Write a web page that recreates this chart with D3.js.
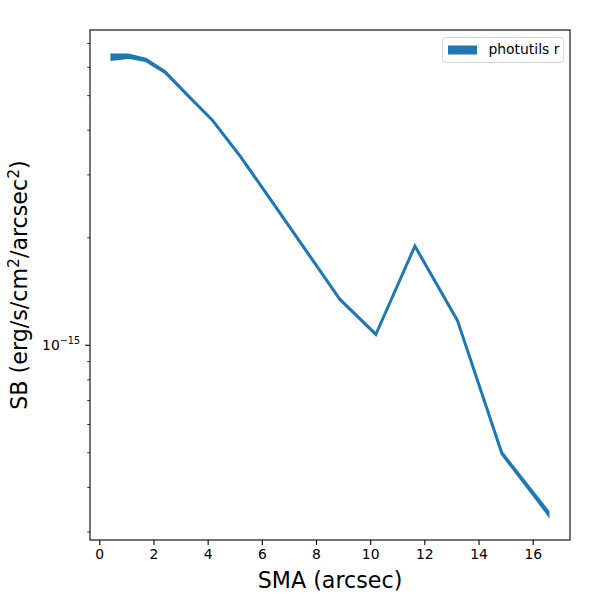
<!DOCTYPE html>
<html>
<head>
<meta charset="utf-8">
<script src="https://cdn.jsdelivr.net/npm/d3@7"></script>
<style>
  body { margin: 0; background: #fff; }
  text { font-family: "DejaVu Sans", sans-serif; fill: #000; }
</style>
</head>
<body>
<div id="container"></div>
<script>
// surface brightness profile
const sma = [0.46, 1.07, 1.71, 2.43, 3.28, 4.18, 5.22, 6.37, 7.6, 8.88, 10.21, 11.65, 13.22, 14.86, 16.57]
const sb = [6.39e-15, 6.43e-15, 6.28e-15, 5.80e-15, 4.98e-15, 4.25e-15, 3.36e-15, 2.52e-15, 1.85e-15,
            1.34e-15, 1.07e-15, 1.89e-15, 1.17e-15, 4.97e-16, 3.38e-16]
// relative error used for the band
const sbErr = [0.015, 0.009, 0.005, 0.003, 0.002, 0.002, 0.002, 0.002, 0.002, 0.002, 0.002, 0.002, 0.002, 0.004, 0.009]

const xTicks = [0, 2, 4, 6, 8, 10, 12, 14, 16]
const yMajor = [1e-15]
const yMinor = [3e-16, 4e-16, 5e-16, 6e-16, 7e-16, 8e-16, 9e-16, 2e-15, 3e-15, 4e-15, 5e-15, 6e-15, 7e-15]
const seriesName = "photutils r"

// constants
const width = 600,
  height = 600,
  margin = { top: 30, bottom: 60, left: 90, right: 30 }
const blue = "#1f77b4"

const data = sma.map((d, i) => ({ sma: d, sb: sb[i], err: sbErr[i] }))

// scales
const xScale = d3.scaleLinear()
  .domain([-0.343, 17.376])
  .range([margin.left, width - margin.right])

const yScale = d3.scaleLog()
  .domain([2.84e-16, 7.61e-15])
  .range([height - margin.bottom, margin.top])

const svg = d3.select("#container")
  .append("svg")
  .attr("width", width)
  .attr("height", height)

// band
const areaGen = d3.area()
  .x(d => xScale(d.sma))
  .y0(d => yScale(d.sb * (1 - d.err)))
  .y1(d => yScale(d.sb * (1 + d.err)))

svg.append("path")
  .datum(data)
  .attr("fill", blue)
  .attr("stroke", blue)
  .attr("stroke-width", 2.7)
  .attr("stroke-linejoin", "miter")
  .attr("d", areaGen)

// x axis
const xAxis = d3.axisBottom(xScale)
  .tickValues(xTicks)
  .tickSize(4.9)
  .tickPadding(4)
  .tickFormat(d3.format("d"))

const xAxisGroup = svg.append("g")
  .attr("transform", `translate(0, ${height - margin.bottom})`)
  .call(xAxis)
xAxisGroup.select(".domain").remove()
xAxisGroup.selectAll("line").attr("stroke-width", 1.1)
xAxisGroup.selectAll("text")
  .attr("font-family", "DejaVu Sans")
  .attr("font-size", 13.9)
  .attr("fill", "#000")

svg.append("text")
  .attr("x", (margin.left + width - margin.right) / 2)
  .attr("y", 588)
  .attr("text-anchor", "middle")
  .attr("font-size", 22.2)
  .text("SMA (arcsec)")

// y axis, major and minor ticks
const yAxis = d3.axisLeft(yScale)
  .tickValues(yMajor)
  .tickSize(4.9)
  .tickFormat("")

const yAxisGroup = svg.append("g")
  .attr("transform", `translate(${margin.left}, 0)`)
  .call(yAxis)
yAxisGroup.select(".domain").remove()
yAxisGroup.selectAll("line").attr("stroke-width", 1.1)

const yMinorAxis = d3.axisLeft(yScale)
  .tickValues(yMinor)
  .tickSize(2.8)
  .tickFormat("")

const yMinorGroup = svg.append("g")
  .attr("transform", `translate(${margin.left}, 0)`)
  .call(yMinorAxis)
yMinorGroup.select(".domain").remove()
yMinorGroup.selectAll("line").attr("stroke-width", 0.8)

// 10^-15 label
yMajor.forEach(v => {
  const t = svg.append("text")
    .attr("x", margin.left - 9.8)
    .attr("y", yScale(v) + 5)
    .attr("text-anchor", "end")
    .attr("font-size", 13.9)
  t.append("tspan").text("10")
  t.append("tspan")
    .attr("dy", -6)
    .attr("font-size", 9.7)
    .text("\u2212" + Math.round(-Math.log10(v)))
})

// y label
const yLabel = svg.append("text")
  .attr("transform", `translate(27, ${(margin.top + height - margin.bottom) / 2}) rotate(-90)`)
  .attr("text-anchor", "middle")
  .attr("font-size", 22.2)
yLabel.append("tspan").text("SB (erg/s/cm")
yLabel.append("tspan").attr("dy", -8).attr("font-size", 15.5).text("2")
yLabel.append("tspan").attr("dy", 8).text("/arcsec")
yLabel.append("tspan").attr("dy", -8).attr("font-size", 15.5).text("2")
yLabel.append("tspan").attr("dy", 8).text(")")

// frame
svg.append("rect")
  .attr("x", margin.left)
  .attr("y", margin.top)
  .attr("width", width - margin.left - margin.right)
  .attr("height", height - margin.top - margin.bottom)
  .attr("fill", "none")
  .attr("stroke", "#000")
  .attr("stroke-width", 1.1)

// legend
const legend = svg.append("g").attr("transform", "translate(442.5, 37.5)")
legend.append("rect")
  .attr("width", 121)
  .attr("height", 25)
  .attr("rx", 3)
  .attr("fill", "#fff")
  .attr("fill-opacity", 0.8)
  .attr("stroke", "#d6d6d6")
legend.append("rect")
  .attr("x", 5.5)
  .attr("y", 8)
  .attr("width", 29)
  .attr("height", 9)
  .attr("fill", blue)
legend.append("text")
  .attr("x", 46)
  .attr("y", 16)
  .attr("font-size", 13.9)
  .text(seriesName)
</script>
</body>
</html>
